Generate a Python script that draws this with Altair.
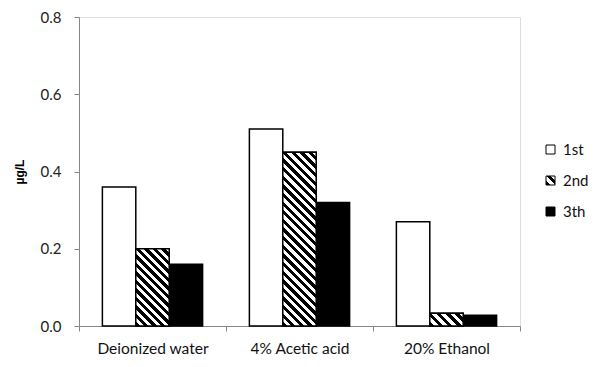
import altair as alt
import pandas as pd

categories = ["Deionized water", "4% Acetic acid", "20% Ethanol"]
series = ["1st", "2nd", "3th"]
values_1st = [0.36, 0.51, 0.27]
values_2nd = [0.20, 0.45, 0.033]
values_3th = [0.16, 0.32, 0.028]
y_ticks = [0.0, 0.2, 0.4, 0.6, 0.8]

rows = []
for i, c in enumerate(categories):
    for s, vals in zip(series, [values_1st, values_2nd, values_3th]):
        rows.append({"cat": c, "series": s, "value": vals[i]})
df = pd.DataFrame(rows)

# layout constants
W, H = 441, 309
YMAX = 0.8
PAD_OUT = 0.7
BAR_W = W / len(categories) / (len(series) + 2 * PAD_OUT)
PERIOD = 8.5  # hatch period (horizontal pixels)
FONT = "Lato"


def hatch_stops(n_periods, frac=0.5):
    stops = []
    n = max(1, int(round(n_periods)))
    for k in range(n):
        a = k / n
        b = (k + frac) / n
        c = (k + 1) / n
        stops += [
            alt.GradientStop(color="black", offset=a),
            alt.GradientStop(color="black", offset=b),
            alt.GradientStop(color="white", offset=b),
            alt.GradientStop(color="white", offset=c),
        ]
    return stops


def hatch_gradient(w, h):
    a = (w + h) / (w * w + h * h)
    return alt.LinearGradient(
        gradient="linear",
        stops=hatch_stops((w + h) / PERIOD),
        x1=0, y1=1, x2=a * w, y2=1 - a * h,
    )


# legend symbol gradient (square) as a Vega expression
sq_stops = []
for k in range(2):
    a, b, c = k / 2, (k + 0.5) / 2, (k + 1) / 2
    sq_stops += [(a, "black"), (b, "black"), (b, "white"), (c, "white")]
stops_js = ",".join("{offset:%g,color:'%s'}" % (o, col) for o, col in sq_stops)
legend_grad_expr = "{gradient:'linear',x1:0,y1:1,x2:1,y2:0,stops:[%s]}" % stops_js

x_enc = alt.X(
    "cat:N",
    sort=categories,
    title=None,
    scale=alt.Scale(paddingInner=0, paddingOuter=0),
    axis=alt.Axis(
        labelAngle=0,
        tickBand="extent",
        tickSize=5,
        labelPadding=10,
        labelFontSize=15.5,
        labelFont=FONT,
        labelColor="#111111",
        domainColor="#868686",
        tickColor="#868686",
    ),
)
xoff_enc = alt.XOffset(
    "series:N",
    sort=series,
    scale=alt.Scale(domain=series, paddingOuter=PAD_OUT, paddingInner=0),
)
y_enc = alt.Y(
    "value:Q",
    title="µg/L",
    scale=alt.Scale(domain=[0, YMAX], nice=False),
    axis=alt.Axis(
        values=y_ticks,
        format=".1f",
        grid=False,
        tickSize=5,
        labelPadding=13,
        labelFontSize=15,
        labelFont=FONT,
        labelColor="#222222",
        titleFont="Liberation Sans",
        titleFontSize=12,
        titleFontWeight="bold",
        titleColor="black",
        titlePadding=14,
        domainColor="#868686",
        tickColor="#868686",
    ),
)

base = alt.Chart(df).mark_bar(stroke="black", strokeWidth=1.5).encode(
    x=x_enc,
    xOffset=xoff_enc,
    y=y_enc,
    fill=alt.Fill(
        "series:N",
        sort=series,
        scale=alt.Scale(
            domain=series,
            range=["white", alt.ExprRef(expr=legend_grad_expr), "black"],
        ),
        legend=alt.Legend(
            title=None,
            orient="none",
            legendX=464,
            legendY=125,
            symbolType="square",
            symbolSize=81,
            symbolStrokeColor="black",
            symbolStrokeWidth=1,
            labelFontSize=15,
            labelFont=FONT,
            labelColor="#111111",
            rowPadding=15,
            labelOffset=5,
        ),
    ),
)

layers = [base]
for c, v in zip(categories, values_2nd):
    h = v / YMAX * H
    grad = hatch_gradient(BAR_W, h)
    layers.append(
        alt.Chart(df)
        .transform_filter((alt.datum.cat == c) & (alt.datum.series == "2nd"))
        .mark_bar(fill=grad, stroke="black", strokeWidth=1.5)
        .encode(x=x_enc, xOffset=xoff_enc, y=y_enc)
    )

chart = (
    alt.layer(*layers)
    .properties(
        width=W,
        height=H,
        autosize=alt.AutoSizeParams(type="none"),
        padding={"left": 71, "top": 9, "right": 72, "bottom": 33},
    )
    .configure_view(stroke="#555555", strokeWidth=1.5)
    .configure(background="white")
)

chart.save("out.html", embed_options={"renderer": "svg", "actions": False})
